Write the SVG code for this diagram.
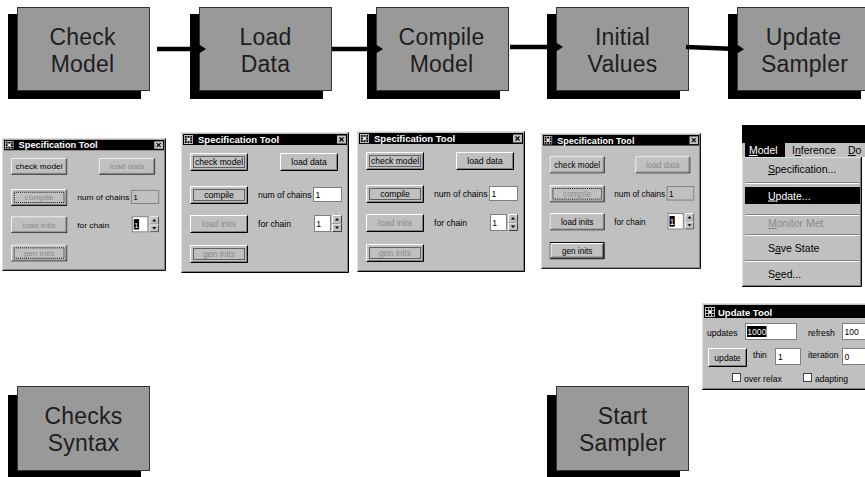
<svg xmlns="http://www.w3.org/2000/svg" width="865" height="477" viewBox="0 0 865 477">
<style>
.shadow{fill:#000}
.box{fill:#999;stroke:#333;stroke-width:1}
.lbl{font-family:"Liberation Sans",Arial,sans-serif;font-size:23px;fill:#1e1e1e;text-anchor:middle;letter-spacing:0.2px}
.conn{stroke:#000;stroke-width:4.5;fill:none}
.tt{font-family:"Liberation Sans",Arial,sans-serif;font-weight:bold;font-size:9.5px;fill:#fff}
.bt{font-family:"Liberation Sans",Arial,sans-serif;font-size:8.6px;fill:#000;text-anchor:middle}
.lb{font-family:"Liberation Sans",Arial,sans-serif;font-size:8.6px;fill:#000}
.mt{font-family:"Liberation Sans",Arial,sans-serif;font-size:10.5px;fill:#000}
.dis{fill:#8a8a8a}
.wt{fill:#fff}
.u{text-decoration:underline}
.inw{fill:#fff;stroke:#808080;stroke-width:1}
.ind{fill:#c0c0c0;stroke:#808080;stroke-width:1}
.sepd{stroke:#808080;stroke-width:1}
.sepl{stroke:#fff;stroke-width:1}
</style>
<defs>
<marker id="ah" viewBox="0 0 7 9" refX="0" refY="4.5" markerWidth="7" markerHeight="9" markerUnits="userSpaceOnUse" orient="auto">
<path d="M0,0 L7,4.5 L0,9 Z" fill="#000"/>
</marker>
<symbol id="ico" viewBox="0 0 10 10">
<rect width="10" height="10" fill="#c0c0c0"/>
<path d="M1,1h2v2h-2zM4,1h2v2h-2zM7,1h2v2h-2zM1,4h2v2h-2zM7,4h2v2h-2zM1,7h2v2h-2zM4,7h2v2h-2zM7,7h2v2h-2z" fill="#000"/>
<rect x="4" y="4" width="2" height="2" fill="#fff"/>
</symbol>
<symbol id="frame" viewBox="0 0 168 141">
<rect width="168" height="141" fill="#c0c0c0"/>
<path d="M0.5,140.5V0.5H167.5" stroke="#dfdfdf" fill="none"/>
<path d="M0.5,140.5H167.5V0.5" stroke="#000" fill="none"/>
<path d="M1.5,139.5H166.5V1.5" stroke="#808080" fill="none"/>
<rect x="2" y="2" width="164" height="11" fill="#000"/>
<use href="#ico" x="3" y="3" width="9" height="9"/>
<rect x="156" y="3.5" width="9" height="8" fill="#c0c0c0"/>
<path d="M158.5,5.5l4,4M162.5,5.5l-4,4" stroke="#000" stroke-width="1.2"/>
</symbol>
<symbol id="btn" viewBox="0 0 58 18">
<rect width="58" height="18" fill="#c0c0c0"/>
<path d="M0.5,17.5V0.5H57.5" stroke="#fff" fill="none"/>
<path d="M0.5,17.5H57.5V0.5" stroke="#000" fill="none"/>
<path d="M1.5,16.5H56.5V1.5" stroke="#808080" fill="none"/>
</symbol>
<symbol id="btnd" viewBox="0 0 58 18">
<rect width="58" height="18" fill="#c0c0c0"/>
<rect x="0.5" y="0.5" width="57" height="17" fill="none" stroke="#000"/>
<path d="M1.5,16.5V1.5H56.5" stroke="#fff" fill="none"/>
<path d="M1.5,16.5H56.5V1.5" stroke="#000" fill="none"/>
<path d="M2.5,15.5H55.5V2.5" stroke="#808080" fill="none"/>
</symbol>
<symbol id="focus" viewBox="0 0 58 18">
<rect x="3.5" y="3.5" width="51" height="11" fill="none" stroke="#000" stroke-dasharray="1 1"/>
</symbol>
<symbol id="spin" viewBox="0 0 10 17">
<rect width="10" height="17" fill="#c0c0c0"/>
<path d="M0.5,8V0.5H9.5" stroke="#fff" fill="none"/>
<path d="M0.5,8.5H9.5V0.5" stroke="#404040" fill="none"/>
<path d="M0.5,16.5V9H9.5" stroke="#fff" fill="none"/>
<path d="M0.5,16.5H9.5V9" stroke="#404040" fill="none"/>
<path d="M5,3L7,5.5H3Z" fill="#000"/>
<path d="M5,14L7,11.5H3Z" fill="#000"/>
</symbol>
</defs>

<rect width="865" height="477" fill="#fff"/>

<!-- top flow nodes -->
<g id="n-check-model">
<rect class="shadow" x="8" y="14" width="133" height="85"/>
<rect class="box" x="17.5" y="7.5" width="132" height="83"/>
<text class="lbl" x="82.5" y="45">Check</text>
<text class="lbl" x="82.5" y="72">Model</text>
</g>
<g id="n-load-data">
<rect class="shadow" x="190" y="14" width="133" height="85"/>
<rect class="box" x="199.5" y="7.5" width="132" height="83"/>
<text class="lbl" x="265.5" y="45">Load</text>
<text class="lbl" x="265.5" y="72">Data</text>
</g>
<g id="n-compile-model">
<rect class="shadow" x="367" y="14" width="133" height="85"/>
<rect class="box" x="376.5" y="7.5" width="132" height="83"/>
<text class="lbl" x="441.5" y="45">Compile</text>
<text class="lbl" x="441.5" y="72">Model</text>
</g>
<g id="n-initial-values">
<rect class="shadow" x="547" y="14" width="133" height="85"/>
<rect class="box" x="556.5" y="7.5" width="132" height="83"/>
<text class="lbl" x="622.5" y="45">Initial</text>
<text class="lbl" x="622.5" y="72">Values</text>
</g>
<g id="n-update-sampler">
<rect class="shadow" x="728" y="14" width="133" height="85"/>
<rect class="box" x="737.5" y="7.5" width="132" height="83"/>
<text class="lbl" x="803.5" y="45">Update</text>
<text class="lbl" x="804.5" y="72">Sampler</text>
</g>

<!-- bottom nodes -->
<g id="n-checks-syntax">
<rect class="shadow" x="8" y="395" width="133" height="82"/>
<rect class="box" x="17.5" y="386.5" width="132" height="84"/>
<text class="lbl" x="83.5" y="424">Checks</text>
<text class="lbl" x="83.5" y="451">Syntax</text>
</g>
<g id="n-start-sampler">
<rect class="shadow" x="547" y="395" width="133" height="82"/>
<rect class="box" x="556.5" y="386.5" width="132" height="84"/>
<text class="lbl" x="622.5" y="424">Start</text>
<text class="lbl" x="622.5" y="451">Sampler</text>
</g>

<!-- connectors -->
<g id="connectors">
<path class="conn" d="M157,49H199" marker-end="url(#ah)"/>
<path class="conn" d="M332,49H376" marker-end="url(#ah)"/>
<path class="conn" d="M510,47H556" marker-end="url(#ah)"/>
<path class="conn" d="M686,47L737,49" marker-end="url(#ah)"/>
</g>

<!-- Specification Tool 1 -->
<g id="spec1" transform="translate(2,138) scale(0.976,0.943)">
<use href="#frame" width="168" height="141"/>
<text class="tt" x="17" y="11">Specification Tool</text>
<use href="#btn" x="9" y="21" width="58" height="18"/>
<text class="bt" x="38" y="33">check model</text>
<use href="#btn" x="99" y="21" width="58" height="18"/>
<text class="bt dis" x="128" y="33">load data</text>
<use href="#btn" x="9" y="54" width="58" height="18"/>
<use href="#focus" x="9" y="54" width="58" height="18"/>
<text class="bt dis" x="38" y="66">compile</text>
<text class="lb" x="77" y="66">num of chains</text>
<rect class="ind" x="132.5" y="55.5" width="28" height="14"/>
<text class="lb" x="134.5" y="66">1</text>
<use href="#btn" x="9" y="83" width="58" height="18"/>
<text class="bt dis" x="38" y="95">load inits</text>
<text class="lb" x="77" y="95">for chain</text>
<rect class="inw" x="133.5" y="83.5" width="16" height="16"/>
<rect x="135" y="86" width="5.5" height="11" fill="#000"/>
<text class="lb wt" x="135.3" y="95">1</text>
<use href="#spin" x="151" y="83" width="10" height="17"/>
<use href="#btn" x="9" y="113" width="58" height="18"/>
<use href="#focus" x="9" y="113" width="58" height="18"/>
<text class="bt dis" x="38" y="125">gen inits</text>
</g>

<!-- Specification Tool 2 -->
<g id="spec2" transform="translate(181,132)">
<use href="#frame" width="168" height="141"/>
<text class="tt" x="17" y="11">Specification Tool</text>
<use href="#btn" x="9" y="21" width="58" height="18"/>
<use href="#focus" x="9" y="21" width="58" height="18"/>
<text class="bt" x="38" y="33">check model</text>
<use href="#btn" x="99" y="21" width="58" height="18"/>
<text class="bt" x="128" y="33">load data</text>
<use href="#btn" x="9" y="54" width="58" height="18"/>
<use href="#focus" x="9" y="54" width="58" height="18"/>
<text class="bt" x="38" y="66">compile</text>
<text class="lb" x="77" y="66">num of chains</text>
<rect class="inw" x="132.5" y="55.5" width="28" height="14"/>
<text class="lb" x="134.5" y="66">1</text>
<use href="#btn" x="9" y="83" width="58" height="18"/>
<text class="bt dis" x="38" y="95">load inits</text>
<text class="lb" x="77" y="95">for chain</text>
<rect class="inw" x="133.5" y="83.5" width="16" height="16"/>
<text class="lb" x="135.3" y="95">1</text>
<use href="#spin" x="151" y="83" width="10" height="17"/>
<use href="#btn" x="9" y="113" width="58" height="18"/>
<use href="#focus" x="9" y="113" width="58" height="18"/>
<text class="bt dis" x="38" y="125">gen inits</text>
</g>

<!-- Specification Tool 3 -->
<g id="spec3" transform="translate(357,131)">
<use href="#frame" width="168" height="141"/>
<text class="tt" x="17" y="11">Specification Tool</text>
<use href="#btn" x="9" y="21" width="58" height="18"/>
<use href="#focus" x="9" y="21" width="58" height="18"/>
<text class="bt" x="38" y="33">check model</text>
<use href="#btn" x="99" y="21" width="58" height="18"/>
<text class="bt" x="128" y="33">load data</text>
<use href="#btn" x="9" y="54" width="58" height="18"/>
<use href="#focus" x="9" y="54" width="58" height="18"/>
<text class="bt" x="38" y="66">compile</text>
<text class="lb" x="77" y="66">num of chains</text>
<rect class="inw" x="132.5" y="55.5" width="28" height="14"/>
<text class="lb" x="134.5" y="66">1</text>
<use href="#btn" x="9" y="83" width="58" height="18"/>
<text class="bt dis" x="38" y="95">load inits</text>
<text class="lb" x="77" y="95">for chain</text>
<rect class="inw" x="133.5" y="83.5" width="16" height="16"/>
<text class="lb" x="135.3" y="95">1</text>
<use href="#spin" x="151" y="83" width="10" height="17"/>
<use href="#btn" x="9" y="113" width="58" height="18"/>
<use href="#focus" x="9" y="113" width="58" height="18"/>
<text class="bt dis" x="38" y="125">gen inits</text>
</g>

<!-- Specification Tool 4 -->
<g id="spec4" transform="translate(541,133) scale(0.952,0.965)">
<use href="#frame" width="168" height="141"/>
<text class="tt" x="17" y="11">Specification Tool</text>
<use href="#btn" x="9" y="24" width="58" height="18"/>
<text class="bt" x="38" y="36">check model</text>
<use href="#btn" x="99" y="24" width="58" height="18"/>
<text class="bt dis" x="128" y="36">load data</text>
<use href="#btn" x="9" y="54" width="58" height="18"/>
<use href="#focus" x="9" y="54" width="58" height="18"/>
<text class="bt dis" x="38" y="66">compile</text>
<text class="lb" x="77" y="66">num of chains</text>
<rect class="ind" x="132.5" y="55.5" width="28" height="14"/>
<text class="lb" x="134.5" y="66">1</text>
<use href="#btn" x="9" y="83" width="58" height="18"/>
<text class="bt" x="38" y="95">load inits</text>
<text class="lb" x="77" y="95">for chain</text>
<rect class="inw" x="133.5" y="83.5" width="16" height="16"/>
<rect x="135" y="86" width="5.5" height="11" fill="#000"/>
<text class="lb wt" x="135.3" y="95">1</text>
<use href="#spin" x="151" y="83" width="10" height="17"/>
<use href="#btnd" x="9" y="113" width="58" height="18"/>
<text class="bt" x="38" y="125">gen inits</text>
</g>

<!-- Model menu -->
<g id="model-menu">
<rect x="742" y="125" width="123" height="18" fill="#000"/>
<rect x="742" y="143" width="123" height="14" fill="#c0c0c0"/>
<rect x="745" y="143" width="40" height="14" fill="#000"/>
<text class="mt wt" x="749" y="154"><tspan class="u">M</tspan>odel</text>
<text class="mt" x="792" y="154">I<tspan class="u">n</tspan>ference</text>
<text class="mt" x="848" y="154"><tspan class="u">D</tspan>o</text>
<rect x="742" y="157" width="120" height="130" fill="#c0c0c0"/>
<path d="M742.5,287V157.5H862" stroke="#dfdfdf" fill="none"/>
<path d="M742,286.5H861.5V157" stroke="#000" fill="none"/>
<path d="M743,285.5H860.5V158" stroke="#808080" fill="none"/>
<text class="mt" x="768" y="173"><tspan class="u">S</tspan>pecification...</text>
<line class="sepd" x1="745" y1="182.5" x2="859" y2="182.5"/>
<line class="sepl" x1="745" y1="183.5" x2="859" y2="183.5"/>
<rect x="745" y="187" width="115" height="17" fill="#000"/>
<text class="mt wt" x="768" y="199.5"><tspan class="u">U</tspan>pdate...</text>
<line class="sepd" x1="745" y1="214.5" x2="859" y2="214.5"/>
<line class="sepl" x1="745" y1="215.5" x2="859" y2="215.5"/>
<text class="mt dis" x="768" y="227"><tspan class="u">M</tspan>onitor Met</text>
<line class="sepd" x1="745" y1="234.5" x2="859" y2="234.5"/>
<line class="sepl" x1="745" y1="235.5" x2="859" y2="235.5"/>
<text class="mt" x="768" y="252">S<tspan class="u">a</tspan>ve State</text>
<line class="sepd" x1="745" y1="260.5" x2="859" y2="260.5"/>
<line class="sepl" x1="745" y1="261.5" x2="859" y2="261.5"/>
<text class="mt" x="768" y="278">S<tspan class="u">e</tspan>ed...</text>
</g>

<!-- Update Tool -->
<g id="update-tool">
<rect x="702" y="303" width="163" height="87" fill="#c0c0c0"/>
<path d="M702.5,390V303.5H865" stroke="#dfdfdf" fill="none"/>
<path d="M702,389.5H865" stroke="#000" fill="none"/>
<path d="M703,388.5H865" stroke="#808080" fill="none"/>
<rect x="704" y="305" width="161" height="13" fill="#000"/>
<use href="#ico" x="705" y="307" width="10" height="10"/>
<text class="tt" x="718" y="315.5">Update Tool</text>
<text class="lb" x="707" y="336">updates</text>
<rect class="inw" x="745.5" y="323.5" width="51" height="16"/>
<rect x="747" y="326" width="19.5" height="11" fill="#000"/>
<text class="lb wt" x="747.3" y="335">1000</text>
<text class="lb" x="808" y="336">refresh</text>
<rect class="inw" x="842.5" y="323.5" width="30" height="16"/>
<text class="lb" x="844.5" y="335">100</text>
<rect x="708" y="348" width="39" height="19" fill="#c0c0c0"/>
<path d="M708.5,366.5V348.5H746.5" stroke="#fff" fill="none"/>
<path d="M708.5,366.5H746.5V348.5" stroke="#000" fill="none"/>
<path d="M709.5,365.5H745.5V349.5" stroke="#808080" fill="none"/>
<text class="bt" x="727.5" y="361">update</text>
<text class="lb" x="753" y="358">thin</text>
<rect class="inw" x="775.5" y="348.5" width="25" height="16"/>
<text class="lb" x="778" y="359.5">1</text>
<text class="lb" x="808" y="358">iteration</text>
<rect class="inw" x="842.5" y="348.5" width="30" height="16"/>
<text class="lb" x="844.5" y="359.5">0</text>
<rect x="732.5" y="373.5" width="8" height="8" fill="#fff" stroke="#404040"/>
<text class="lb" x="744" y="381.5">over relax</text>
<rect x="803.5" y="373.5" width="8" height="8" fill="#fff" stroke="#404040"/>
<text class="lb" x="815" y="381.5">adapting</text>
</g>
</svg>
